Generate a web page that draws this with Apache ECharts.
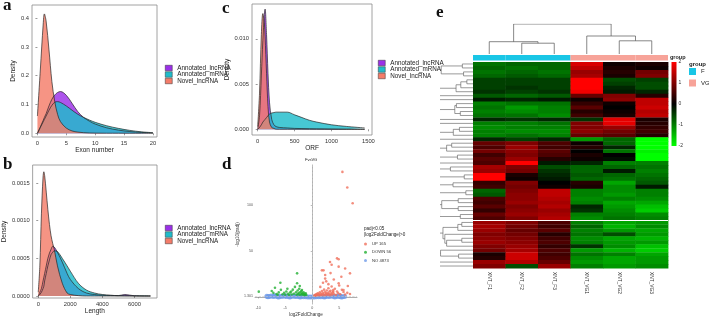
<!DOCTYPE html>
<html>
<head>
<meta charset="utf-8">
<script src="https://cdn.jsdelivr.net/npm/echarts@6/dist/echarts.min.js"></script>
<style>
html,body{margin:0;padding:0;background:#fff;}
#chart{width:709px;height:318px;}
</style>
</head>
<body>
<div id="chart"></div>
<script>
// ---- density panels (a, b, c) ----
const typeNames = ['Annotated_lncRNA', 'Annotated_mRNA', 'Novel_lncRNA'];
const typeColors = ['#9B30E8', '#1FBCCB', '#F47C69'];

const exonX = [0, 0.5, 1, 1.2, 1.5, 2, 2.5, 3, 3.5, 4, 5, 6, 7, 8, 9, 10, 12, 14, 16, 18, 20];
const exonLnc = [0, 0.022, 0.045, 0.055, 0.068, 0.095, 0.118, 0.133, 0.142, 0.145, 0.132, 0.104, 0.075, 0.055, 0.042, 0.032, 0.019, 0.011, 0.006, 0.003, 0.001];
const exonMrna = [0, 0.02, 0.04, 0.048, 0.06, 0.08, 0.097, 0.108, 0.11, 0.107, 0.095, 0.08, 0.066, 0.055, 0.046, 0.038, 0.026, 0.017, 0.01, 0.005, 0.002];
const exonNovel = [0.06, 0.22, 0.38, 0.415, 0.39, 0.29, 0.18, 0.11, 0.065, 0.04, 0.018, 0.008, 0.004, 0.002, 0.001, 0.0005, 0.0002, 0.0001, 0, 0, 0];

const lenX = [0, 100, 200, 300, 350, 400, 500, 600, 700, 800, 900, 1000, 1200, 1500, 1800, 2000, 2500, 3000, 3500, 4000, 4500, 5000, 5400, 6000, 7000];
const lenLnc = [0, 0.00005, 0.0001, 0.0002, 0.00025, 0.0003, 0.0004, 0.0005, 0.00057, 0.00062, 0.00066, 0.00065, 0.00058, 0.00045, 0.0003, 0.00022, 0.0001, 0.00004, 0.00002, 0.00001, 0.000008, 0.000005, 0.00002, 0.000003, 0];
const lenMrna = [0, 0.00002, 0.00005, 0.0001, 0.00013, 0.0002, 0.0003, 0.0004, 0.00048, 0.00055, 0.00058, 0.0006, 0.00059, 0.0005, 0.0004, 0.00033, 0.00017, 0.00008, 0.00004, 0.00002, 0.00001, 0.000005, 0.000004, 0.000002, 0];
const lenNovel = [0.00005, 0.0004, 0.0011, 0.00158, 0.00165, 0.0016, 0.00138, 0.00115, 0.00095, 0.0008, 0.0007, 0.00062, 0.0004, 0.00017, 0.00004, 0.00002, 0.000005, 0, 0, 0, 0, 0, 0, 0, 0];

const orfX = [0, 25, 50, 70, 90, 100, 120, 140, 160, 190, 220, 250, 300, 400, 500, 600, 700, 800, 1000, 1200, 1450];
const orfLnc = [0, 0.0015, 0.006, 0.0098, 0.0127, 0.0133, 0.0105, 0.0062, 0.003, 0.0011, 0.0005, 0.0003, 0.0002, 0.00015, 0.0001, 0.00008, 0.00006, 0.00005, 0.00003, 0.00001, 0];
const orfMrna = [0, 0.0002, 0.0005, 0.0008, 0.001, 0.0011, 0.0013, 0.0015, 0.0017, 0.0018, 0.00185, 0.0019, 0.0019, 0.0019, 0.0016, 0.0013, 0.001, 0.0008, 0.0005, 0.00032, 0.00015];
const orfNovel = [0.0003, 0.004, 0.0105, 0.0128, 0.0118, 0.0103, 0.0062, 0.0025, 0.0008, 0.0002, 0.0001, 0, 0, 0, 0, 0, 0, 0, 0, 0, 0];

// ---- volcano (d) ----
const volcanoNo = [[-8.4,0.8],[-8.0,0.5],[-7.6,1.0],[-7.2,0.6],[-6.8,1.1],[-6.4,0.4],[-6.0,0.9],[-5.6,0.5],[-5.2,1.1],[-4.8,0.6],[-4.4,0.9],[-4.0,0.3],[-3.6,1.0],[-3.2,0.5],[-2.8,0.8],[-2.4,0.3],[-2.0,0.7],[-1.6,0.3],[-1.2,0.4],[-0.8,0.1],[-0.4,0.05],[0,0],[0.4,0.05],[0.8,0.15],[1.2,0.4],[1.6,0.3],[2.0,0.7],[2.4,0.4],[2.8,0.9],[3.2,0.5],[3.6,1.0],[4.0,0.6],[4.4,0.9],[4.8,0.5],[5.2,0.8],[5.6,0.4],[-8.2,0.2],[-6.2,0.1],[-4.2,0.1],[-2.2,0.1],[2.2,0.1],[4.2,0.1],[5.4,0.1],[-7.0,1.3],[-5.0,1.3],[-3.0,1.2],[3.0,1.2],[5.0,1.3],[6.0,0.5]];
const volcanoDown = [[-9.9,5.8],[-7.5,6.5],[-6.9,10],[-5.9,15.5],[-7.2,4.5],[-6.6,3.2],[-6.2,5],[-5.8,7.8],[-5.5,3],[-5.2,4.6],[-5.0,2.5],[-4.8,6],[-4.5,3.5],[-4.3,2.2],[-4.1,4.8],[-3.8,2.8],[-3.6,8],[-3.4,3.6],[-3.2,11],[-3.0,5.2],[-2.9,2.4],[-2.8,25.7],[-2.8,15],[-2.7,7],[-2.6,3.1],[-2.5,4.4],[-2.4,9],[-2.3,2.2],[-2.2,5.5],[-2.1,3.8],[-2.0,6.6],[-1.9,2.6],[-1.8,4.2],[-1.7,3],[-1.6,5],[-1.5,2.1],[-1.4,3.4],[-1.3,2.5],[-1.2,4],[-1.1,2.2],[-6.4,2.4],[-4.6,9],[-3.9,5.9],[-2.3,12],[-1.9,7.5]];
const volcanoUp = [[0.4,1.5],[0.5,2.2],[0.6,1.8],[0.7,3.0],[0.8,1.4],[0.9,2.6],[1.0,4.1],[1.1,1.9],[1.2,3.3],[1.3,2.4],[1.4,5.2],[1.5,1.6],[1.6,3.8],[1.7,2.8],[1.8,6.5],[1.9,2.1],[2.0,4.6],[2.1,3.2],[2.2,8.0],[2.3,1.7],[2.4,5.5],[2.5,2.9],[2.6,3.9],[2.7,7.1],[2.8,2.3],[2.9,4.4],[3.0,9.5],[3.1,3.1],[3.2,5.9],[3.3,2.0],[3.4,6.8],[3.5,4.0],[3.6,11.5],[3.7,2.6],[3.8,5.0],[3.9,7.6],[4.0,3.4],[4.2,9.0],[4.4,2.2],[4.6,6.0],[4.8,4.2],[5.0,12.5],[5.2,3.0],[5.5,7.8],[5.8,5.5],[6.1,2.8],[6.5,4.5],[7.0,3.2],[1.8,29],[3.3,38],[2.4,20],[2.1,29],[2.4,24],[4.9,41],[3.6,35],[6.1,31],[7.0,25.7],[4.9,15],[3.9,5.8],[5.8,7.6],[4.6,42],[4.9,33],[2.6,17],[3.0,14],[1.5,11],[2.0,15.5],[4.0,19],[5.4,22],[6.6,12],[3.4,26],[5.6,136],[6.5,119],[7.5,102]];
const volcanoNames = ['UP 165', 'DOWN 56', 'NO 4873'];
const volcanoColors = ['#F0705C', '#22B033', '#6F9BE8'];
const padjCut = 1.3;

// ---- heatmap (e) ----
const colNames = ['XNT_F1', 'XNT_F2', 'XNT_F3', 'XNT_VG1', 'XNT_VG2', 'XNT_VG3'];
const colGroup = ['F', 'F', 'F', 'VG', 'VG', 'VG'];
const groupColors = { F: '#19C6E6', VG: '#F7A399' };
// merges: [a, b, height]; indices >= 6 are earlier merges
const colMerges = [[1, 2, 0.36], [0, 6, 0.41], [4, 5, 0.44], [3, 8, 0.6], [7, 9, 1.0]];
const heatRows = [
  [-0.9,-0.8,-0.8, 1.7, 0.1, 0.2],
  [-0.8,-0.9,-0.8, 1.5, 0.2, 0.1],
  [-0.9,-0.8,-0.9, 1.2, 0.3, 0.9],
  [-0.8,-0.7,-0.8, 1.3, 0.2, 1.0],
  [-0.5,-0.5,-0.5, 2.0,-0.6,-0.5],
  [-0.5,-0.5,-0.5, 2.0,-0.5,-0.6],
  [-0.5,-0.4,-0.5, 2.0,-0.3,-0.6],
  [-0.4,-0.5,-0.4, 1.9,-0.2,-0.3],
  [-0.7,-0.8,-0.7, 0.8, 1.0, 0.3],
  [-0.2,-0.3,-0.2, 0.1, 1.1, 1.5],
  [-1.0,-0.9,-0.9, 0.4, 0.1, 1.5],
  [-0.9,-1.2,-1.0, 0.7, 0.0, 1.6],
  [-1.0,-1.1,-1.0, 0.3, 0.1, 1.4],
  [-0.9,-0.9,-1.1, 0.5, 0.2, 1.5],
  [-0.3,-0.4,-0.3,-0.4, 1.8, 0.2],
  [-1.0,-1.0,-0.9, 1.0, 1.8, 0.3],
  [-1.1,-1.0,-1.0, 1.0, 1.2, 0.4],
  [-1.0,-1.1,-1.1, 1.1, 0.9, 0.5],
  [-1.0,-0.9,-1.0, 0.8, 0.7, 0.3],
  [-0.3,-0.5,-0.3,-1.2,-0.8,-2.0],
  [ 0.8, 1.0, 0.6, 0.1,-0.8,-2.0],
  [ 0.6, 1.2, 0.5, 0.3,-0.3,-2.0],
  [ 0.9, 1.1, 0.7, 0.0,-0.9,-1.9],
  [ 0.5, 1.0, 0.6, 0.2, 0.0,-2.0],
  [ 0.7, 1.2, 0.3, 0.1,-0.1,-2.0],
  [ 0.6, 2.0,-0.2,-0.3,-1.0,-1.0],
  [ 1.3, 1.0,-0.6,-0.8,-0.8,-0.9],
  [ 1.2, 0.9,-0.4,-0.8,-0.2,-1.0],
  [ 2.0, 0.2,-0.3,-0.7,-0.8,-0.9],
  [ 2.0, 0.1,-0.2,-0.8,-0.9,-0.8],
  [ 0.4, 1.0, 0.0, 0.3,-1.3,-0.7],
  [ 0.5, 0.9, 0.1, 0.2,-1.1,-0.2],
  [-0.8, 1.0, 1.5,-1.0,-1.1,-1.0],
  [-0.7, 1.1, 1.5,-1.0,-1.2,-1.0],
  [ 0.6, 1.1, 1.4,-1.1,-1.0,-1.1],
  [ 0.5, 1.2, 1.3,-1.0,-1.3,-1.3],
  [ 0.7, 1.0, 1.4,-0.3,-1.2,-1.5],
  [ 0.4, 1.1, 1.2,-0.4,-1.1,-1.6],
  [ 0.8, 1.2, 1.3,-1.0,-1.0,-1.1],
  [ 0.6, 1.0, 1.4,-1.1,-0.9,-1.0],
  [ 1.2, 1.0, 0.6,-1.0,-1.3,-1.2],
  [ 1.3, 0.9, 0.5,-0.8,-1.4,-1.1],
  [ 1.2, 0.8, 0.7,-1.0,-1.2,-1.3],
  [ 1.0, 0.9, 0.3,-0.9,-0.6,-1.2],
  [ 1.1, 1.0, 0.5,-1.1,-1.3,-1.4],
  [ 1.2, 1.1, 0.6,-1.0,-1.2,-1.2],
  [ 1.0, 1.2, 0.4,-0.4,-1.1,-1.5],
  [ 0.9, 1.3, 0.6,-1.2,-1.4,-1.6],
  [ 0.2, 1.6, 0.5,-0.9,-1.0,-1.3],
  [ 0.3, 1.6, 0.6,-1.1,-1.3,-1.2],
  [ 1.2, 1.4, 0.8,-1.2,-1.3,-1.2],
  [ 1.0,-0.6, 1.2,-1.0,-1.2,-1.1]
];
const gapRow = 40;

const FONT = 'Liberation Sans';
const chart = echarts.init(document.getElementById('chart'));

function pairs(xs, ys) {
  return xs.map((x, i) => [x, ys[i]]);
}

// clustering of neighbouring rows (complete linkage), keeps the row order
function rowDendrogram(rows) {
  const d = (a, b) => Math.sqrt(a.reduce((s, v, k) => s + (v - b[k]) * (v - b[k]), 0));
  let nodes = rows.map((r, i) => ({ pos: i + 0.5, h: 0, members: [i] }));
  const segs = [];
  const link = (a, b) => {
    let m = 0;
    a.members.forEach((i) => b.members.forEach((j) => { m = Math.max(m, d(rows[i], rows[j])); }));
    return m;
  };
  while (nodes.length > 1) {
    let best = 0, bd = Infinity;
    for (let i = 0; i < nodes.length - 1; i++) {
      const v = link(nodes[i], nodes[i + 1]);
      if (v < bd) { bd = v; best = i; }
    }
    const a = nodes[best], b = nodes[best + 1];
    const h = Math.max(bd, a.h, b.h) + 0.05;
    segs.push({ coords: [[a.h, a.pos], [h, a.pos], [h, b.pos], [b.h, b.pos]] });
    nodes.splice(best, 2, { pos: (a.pos + b.pos) / 2, h: h, members: a.members.concat(b.members) });
  }
  return segs;
}

function colDendrogram() {
  const nodes = colNames.map((n, i) => ({ pos: i + 0.5, h: 0 }));
  const segs = [];
  colMerges.forEach(([a, b, h]) => {
    const na = nodes[a], nb = nodes[b];
    segs.push({ coords: [[na.pos, na.h], [na.pos, h], [nb.pos, h], [nb.pos, nb.h]] });
    nodes.push({ pos: (na.pos + nb.pos) / 2, h: h });
  });
  return segs;
}

const heatData = [];
heatRows.forEach((r, i) => r.forEach((v, j) => heatData.push([j, i, v])));

const boxGrid = { show: true, borderColor: '#8a8a8a', borderWidth: 0.8, backgroundColor: '#fff' };
function densityX(grid, min, max, ticks, name) {
  return {
    gridIndex: grid, type: 'value', min: min, max: max, name: name, nameLocation: 'middle', nameGap: 10,
    nameTextStyle: { fontSize: 6.5, color: '#222', fontFamily: FONT },
    axisLine: { show: false }, splitLine: { show: false },
    axisTick: { show: true, length: 2, customValues: ticks, lineStyle: { color: '#555', width: 0.6 } },
    axisLabel: { fontSize: 5.8, color: '#333', margin: 3, customValues: ticks, fontFamily: FONT,
      formatter: (v) => String(v) }
  };
}
function densityY(grid, min, max, ticks, digits, gap) {
  return {
    gridIndex: grid, type: 'value', min: min, max: max, name: 'Density', nameLocation: 'middle', nameGap: gap, nameRotate: 90,
    nameTextStyle: { fontSize: 6.5, color: '#222', fontFamily: FONT },
    axisLine: { show: false }, splitLine: { show: false },
    axisTick: { show: true, length: 2, customValues: ticks, lineStyle: { color: '#555', width: 0.6 } },
    axisLabel: { fontSize: 5.8, color: '#333', margin: 3, customValues: ticks, fontFamily: FONT,
      formatter: (v) => v.toFixed(digits) }
  };
}
function densitySeries(axis, xs, list) {
  return list.map((ys, k) => ({
    type: 'line', name: typeNames[k], xAxisIndex: axis, yAxisIndex: axis,
    data: pairs(xs, ys), smooth: 0.35, symbol: 'none',
    lineStyle: { color: '#262626', width: 0.7 },
    itemStyle: { color: typeColors[k] },
    areaStyle: { color: typeColors[k], opacity: 0.82 }
  }));
}
function typeLegend(left, top) {
  return {
    left: left, top: top, orient: 'vertical', padding: 0, itemGap: 0.5,
    itemWidth: 7, itemHeight: 5.5, selectedMode: false,
    textStyle: { fontSize: 6.3, color: '#222', fontFamily: FONT, lineHeight: 6 },
    data: typeNames.map((n, k) => ({ name: n, icon: 'rect',
      itemStyle: { color: typeColors[k], borderColor: '#333', borderWidth: 0.5 } }))
  };
}
const letterStyle = { fontFamily: 'Liberation Serif', fontWeight: 'bold', fontSize: 17, color: '#111' };
const smallText = (txt, left, top, size, bold) => ({
  text: txt, left: left, top: top, padding: 0,
  textStyle: { fontSize: size, fontWeight: bold ? 'bold' : 'normal', color: '#222', fontFamily: FONT }
});

const hidden = { show: false };
const option = {
  animation: false,
  backgroundColor: '#fff',
  textStyle: { fontFamily: FONT },
  title: [
    { text: 'a', left: 3, top: -3, padding: 0, textStyle: letterStyle },
    { text: 'b', left: 3, top: 156, padding: 0, textStyle: letterStyle },
    { text: 'c', left: 222, top: 0, padding: 0, textStyle: letterStyle },
    { text: 'd', left: 222, top: 156, padding: 0, textStyle: letterStyle },
    { text: 'e', left: 436, top: 4, padding: 0, textStyle: letterStyle },
    smallText('FvsVG', 305, 158, 4),
    smallText('padj<0.05', 364, 226, 4.6),
    smallText('|log2FoldChange|>0', 364, 232, 4.6),
    smallText('group', 670, 54, 5.5, true),
    smallText('group', 689, 61, 6, true)
  ],
  legend: [
    typeLegend(165, 65),
    typeLegend(165, 225),
    typeLegend(378, 60),
    {
      left: 364, top: 242, orient: 'vertical', padding: 0, itemGap: 4.2,
      itemWidth: 3, itemHeight: 3, selectedMode: false,
      textStyle: { fontSize: 4.2, color: '#333', fontFamily: FONT },
      data: volcanoNames.map((n) => ({ name: n, icon: 'circle' }))
    },
    {
      left: 689, top: 68, orient: 'vertical', padding: 0, itemGap: 4.5,
      itemWidth: 7, itemHeight: 7, selectedMode: false,
      textStyle: { fontSize: 6, color: '#222', fontFamily: FONT },
      data: ['F', 'VG'].map((g) => ({ name: g, icon: 'rect' }))
    }
  ],
  visualMap: {
    type: 'continuous', show: false, min: -2, max: 2, dimension: 2, seriesIndex: 12,
    inRange: { color: ['#00ff00', '#000000', '#ff0000'] }
  },
  grid: [
    Object.assign({ left: 32, top: 5, width: 125, height: 132 }, boxGrid),
    Object.assign({ left: 32, top: 165, width: 125, height: 133 }, boxGrid),
    Object.assign({ left: 252, top: 4, width: 120, height: 131 }, boxGrid),
    { left: 255, top: 165, width: 102, height: 139 },
    { left: 473, top: 62, width: 195, height: 206 },
    { left: 473, top: 24, width: 195, height: 30 },
    { left: 441, top: 62, width: 32, height: 206 },
    { left: 473, top: 55, width: 195, height: 5.5 },
    { left: 671.5, top: 62, width: 5, height: 84 }
  ],
  xAxis: [
    densityX(0, -0.94, 20.7, [0, 5, 10, 15, 20], 'Exon number'),
    densityX(1, -350, 7410, [0, 2000, 4000, 6000], 'Length'),
    densityX(2, -77, 1549, [0, 500, 1000, 1500], 'ORF'),
    {
      gridIndex: 3, type: 'value', min: -10.6, max: 8.3, name: 'log2FoldChange',
      nameLocation: 'middle', nameGap: 8, nameTextStyle: { fontSize: 4.6, color: '#333' },
      splitLine: { show: false },
      axisLine: { lineStyle: { color: '#777', width: 0.6 } },
      axisTick: { length: 1.5, customValues: [-10, -5, 0, 5], lineStyle: { color: '#777', width: 0.5 } },
      axisLabel: { fontSize: 3.6, color: '#555', margin: 2, customValues: [-10, -5, 0, 5] }
    },
    {
      gridIndex: 4, type: 'value', min: 0, max: 6,
      axisLine: hidden, axisTick: hidden, splitLine: hidden,
      axisLabel: { fontSize: 4.8, color: '#333', margin: 4, rotate: -90,
        customValues: colNames.map((n, i) => i + 0.5),
        formatter: (v) => colNames[Math.floor(v)] }
    },
    { gridIndex: 5, type: 'value', min: 0, max: 6, show: false },
    { gridIndex: 6, type: 'value', min: 0, max: 'dataMax', inverse: true, show: false },
    { gridIndex: 7, type: 'category', data: colNames, show: false },
    { gridIndex: 8, type: 'category', data: ['scale'], show: false }
  ],
  yAxis: [
    densityY(0, -0.013, 0.446, [0, 0.1, 0.2, 0.3, 0.4], 1, 15),
    densityY(1, -0.0000266, 0.00174, [0, 0.0005, 0.001, 0.0015], 4, 22),
    densityY(2, -0.00063, 0.01386, [0, 0.005, 0.01], 3, 19),
    {
      gridIndex: 3, type: 'value', min: -7.6, max: 143.5, name: '-log10(padj)',
      nameLocation: 'middle', nameGap: 10, nameRotate: 90, nameTextStyle: { fontSize: 4.6, color: '#333' },
      splitLine: { show: false },
      axisLine: { show: true, lineStyle: { color: '#777', width: 0.6 } },
      axisTick: { show: true, length: 1.5, customValues: [padjCut, 50, 100], lineStyle: { color: '#777', width: 0.5 } },
      axisLabel: { fontSize: 3.6, color: '#555', margin: 2, customValues: [padjCut, 50, 100],
        formatter: (v) => (v === padjCut ? '1.301' : String(v)) }
    },
    { gridIndex: 4, type: 'value', min: 0, max: heatRows.length, inverse: true, show: false },
    { gridIndex: 5, type: 'value', min: 0, max: 1, show: false },
    { gridIndex: 6, type: 'value', min: 0, max: heatRows.length, inverse: true, show: false },
    { gridIndex: 7, type: 'value', min: 0, max: 1, show: false },
    {
      gridIndex: 8, type: 'value', min: -2, max: 2, interval: 1, position: 'right',
      axisLine: hidden, axisTick: hidden, splitLine: hidden,
      axisLabel: { fontSize: 5, color: '#333', margin: 2 }
    }
  ],
  series: [
    ...densitySeries(0, exonX, [exonLnc, exonMrna, exonNovel]),
    ...densitySeries(1, lenX, [lenLnc, lenMrna, lenNovel]),
    ...densitySeries(2, orfX, [orfLnc, orfMrna, orfNovel]),
    // 9..11 volcano
    {
      type: 'scatter', name: volcanoNames[2], xAxisIndex: 3, yAxisIndex: 3, data: volcanoNo,
      symbolSize: 5, itemStyle: { color: volcanoColors[2] },
      markLine: {
        silent: true, symbol: 'none', label: { show: false },
        lineStyle: { color: '#c8c8c8', type: 'dashed', width: 0.6 },
        data: [{ xAxis: 0 }, { yAxis: padjCut }]
      }
    },
    {
      type: 'scatter', name: volcanoNames[1], xAxisIndex: 3, yAxisIndex: 3, data: volcanoDown,
      symbolSize: 2.6, itemStyle: { color: volcanoColors[1] }
    },
    {
      type: 'scatter', name: volcanoNames[0], xAxisIndex: 3, yAxisIndex: 3, data: volcanoUp,
      symbolSize: 2.6, itemStyle: { color: volcanoColors[0] }
    },
    // 12 heatmap cells
    {
      type: 'custom', name: 'expression', xAxisIndex: 4, yAxisIndex: 4, data: heatData,
      encode: { x: 0, y: 1 },
      renderItem: (params, api) => {
        const c = api.value(0), r = api.value(1);
        const p = api.coord([c, r]);
        const q = api.coord([c + 1, r + 1]);
        return {
          type: 'rect',
          shape: { x: p[0], y: p[1], width: q[0] - p[0] + 0.4, height: q[1] - p[1] + 0.4 },
          style: { fill: api.visual('color') }
        };
      },
      markLine: {
        silent: true, symbol: 'none', label: { show: false },
        lineStyle: { color: '#ffffff', type: 'solid', width: 1 },
        data: [{ yAxis: gapRow }]
      }
    },
    {
      type: 'lines', coordinateSystem: 'cartesian2d', xAxisIndex: 5, yAxisIndex: 5,
      polyline: true, data: colDendrogram(), silent: true,
      lineStyle: { color: '#555', width: 0.7, opacity: 1 }
    },
    {
      type: 'lines', coordinateSystem: 'cartesian2d', xAxisIndex: 6, yAxisIndex: 6,
      polyline: true, data: rowDendrogram(heatRows), silent: true,
      lineStyle: { color: '#555', width: 0.6, opacity: 1 }
    },
    {
      type: 'bar', name: 'F', xAxisIndex: 7, yAxisIndex: 7, stack: 'group', barCategoryGap: '0%',
      data: colGroup.map((g) => (g === 'F' ? 1 : 0)), itemStyle: { color: groupColors.F }
    },
    {
      type: 'bar', name: 'VG', xAxisIndex: 7, yAxisIndex: 7, stack: 'group', barCategoryGap: '0%',
      data: colGroup.map((g) => (g === 'VG' ? 1 : 0)), itemStyle: { color: groupColors.VG }
    },
    {
      type: 'custom', name: 'scale', xAxisIndex: 8, yAxisIndex: 8, data: [[0, -2, 2]],
      renderItem: (params, api) => {
        const top = api.coord([0, api.value(2)]);
        const bottom = api.coord([0, api.value(1)]);
        return {
          type: 'rect',
          shape: { x: params.coordSys.x, y: top[1], width: params.coordSys.width, height: bottom[1] - top[1] },
          style: {
            fill: new echarts.graphic.LinearGradient(0, 0, 0, 1, [
              { offset: 0, color: '#ff0000' }, { offset: 0.5, color: '#000000' }, { offset: 1, color: '#00ff00' }
            ])
          }
        };
      }
    }
  ]
};
chart.setOption(option);
</script>
</body>
</html>
